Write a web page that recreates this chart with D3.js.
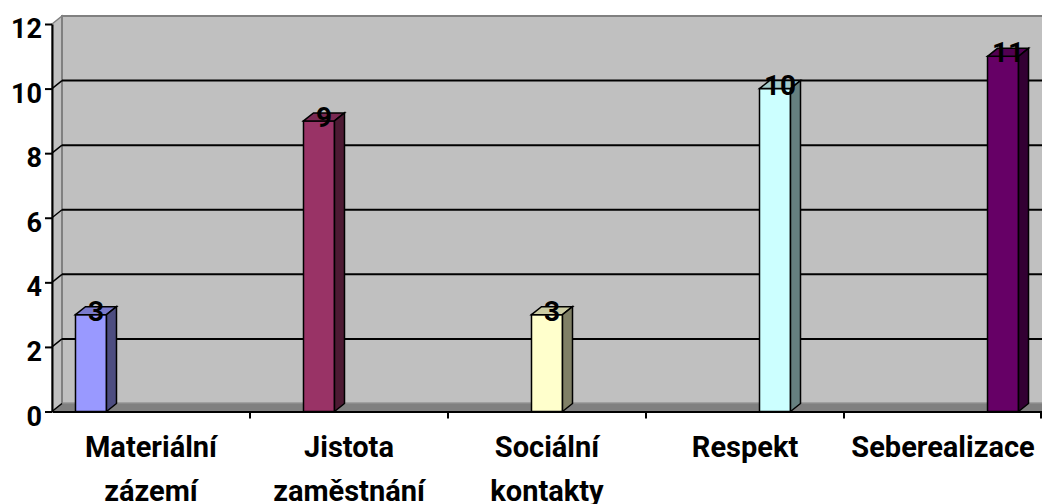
<!DOCTYPE html>
<html>
<head>
<meta charset="utf-8">
<script src="https://cdn.jsdelivr.net/npm/d3@7"></script>
<style>
  html, body { margin: 0; padding: 0; background: #fff; }
  svg { display: block; }
  text { font-family: Roboto, "Open Sans", sans-serif; font-weight: 700; fill: #000; }
</style>
</head>
<body>
<svg id="chart" width="1042" height="504"></svg>
<script>
// Motivation factors and how many respondents chose each
const categories = ["Materiální zázemí", "Jistota zaměstnání", "Sociální kontakty", "Respekt", "Seberealizace"];
const labelLines = [["Materiální", "zázemí"], ["Jistota", "zaměstnání"], ["Sociální", "kontakty"], ["Respekt"], ["Seberealizace"]];
const values = [3, 9, 3, 10, 11];
const colors = ["#9999ff", "#993366", "#ffffcc", "#ccffff", "#660066"];
const yTicks = [0, 2, 4, 6, 8, 10, 12];

const plotL = 52, plotR = 1042, plotT = 24, plotB = 411.5;
const depth = { dx: 10, dy: -8 };   // 3D depth offset of walls and columns
const barW = 31;
const axisFont = 27, catFont = 29, valueFont = 28;

const svg = d3.select("#chart");

const y = d3.scaleLinear().domain([0, 12]).range([plotB, plotT]);
const xCat = d3.scaleBand().domain(categories).range([plotL, plotR]);
// columns are spread evenly across the plot, slightly inset from the walls
const xBar = d3.scalePoint().domain(categories).range([plotL, plotR]).padding(0.171);

const shade = (c, k) => {
  const r = d3.rgb(c);
  return d3.rgb(r.r * k, r.g * k, r.b * k).formatHex();
};

// side wall
svg.append("path")
  .attr("d", `M${plotL},${y(0)} L${plotL + depth.dx},${y(0) + depth.dy} L${plotL + depth.dx},${y(12) + depth.dy} L${plotL},${y(12)} Z`)
  .attr("fill", "#c0c0c0").attr("stroke", "#808080").attr("stroke-width", 1.5);

// back wall
svg.append("rect")
  .attr("x", plotL + depth.dx).attr("y", y(12) + depth.dy)
  .attr("width", plotR + 10 - (plotL + depth.dx)).attr("height", y(0) - y(12))
  .attr("fill", "#c0c0c0").attr("stroke", "#808080").attr("stroke-width", 2);

// floor
svg.append("path")
  .attr("d", `M${plotL},${y(0)} L${plotL + depth.dx},${y(0) + depth.dy} L${plotR + depth.dx},${y(0) + depth.dy} L${plotR},${y(0)} Z`)
  .attr("fill", "#808080").attr("stroke", "#8c8c8c").attr("stroke-width", 1);

// gridlines on back wall and their slants across the side wall
const gridVals = yTicks.filter(v => v > 0 && v < 12);
svg.append("g").selectAll("line").data(gridVals).join("line")
  .attr("x1", plotL + depth.dx).attr("x2", plotR + 10)
  .attr("y1", d => y(d) + depth.dy).attr("y2", d => y(d) + depth.dy)
  .attr("stroke", "#000").attr("stroke-width", 2);
svg.append("g").selectAll("line").data(yTicks.filter(v => v < 12)).join("line")
  .attr("x1", plotL).attr("x2", plotL + depth.dx)
  .attr("y1", d => y(d)).attr("y2", d => y(d) + depth.dy)
  .attr("stroke", "#000").attr("stroke-width", 1.5);

// 3D columns
const bars = svg.append("g").selectAll("g").data(categories).join("g");
bars.each(function (c, i) {
  const g = d3.select(this);
  const x0 = xBar(c) - barW / 2, x1 = xBar(c) + barW / 2;
  const yt = y(values[i]), yb = y(0);
  const col = colors[i];
  g.append("rect").attr("x", x0).attr("y", yt).attr("width", barW).attr("height", yb - yt)
    .attr("fill", col).attr("stroke", "#000").attr("stroke-width", 1.5);
  g.append("path")
    .attr("d", `M${x0},${yt} L${x0 + depth.dx},${yt + depth.dy} L${x1 + depth.dx},${yt + depth.dy} L${x1},${yt} Z`)
    .attr("fill", shade(col, 0.8)).attr("stroke", "#000").attr("stroke-width", 1.5);
  g.append("path")
    .attr("d", `M${x1},${yt} L${x1 + depth.dx},${yt + depth.dy} L${x1 + depth.dx},${yb + depth.dy} L${x1},${yb} Z`)
    .attr("fill", shade(col, 0.5)).attr("stroke", "#000").attr("stroke-width", 1.5);
});

// value labels centred on the column tops
svg.append("g").selectAll("text").data(categories).join("text")
  .attr("x", c => xBar(c) + depth.dx / 2)
  .attr("y", (c, i) => y(values[i]) + depth.dy / 2 + 10)
  .attr("text-anchor", "middle")
  .style("font-size", valueFont + "px")
  .text((c, i) => values[i]);

// value axis
const yAxis = svg.append("g").attr("transform", `translate(${plotL},0)`)
  .call(d3.axisLeft(y).tickValues(yTicks).tickSize(7).tickSizeOuter(0).tickPadding(3));
yAxis.select(".domain").attr("stroke", "#000").attr("stroke-width", 2);
yAxis.selectAll(".tick text").style("font-size", axisFont + "px").attr("dy", "0.5em")
  .style("font-family", "Roboto, sans-serif");
yAxis.selectAll(".tick line").attr("stroke", "#000").attr("stroke-width", 2);

// category axis: line, boundary ticks, two-line labels
const xAxis = svg.append("g").attr("transform", `translate(0,${y(0)})`)
  .call(d3.axisBottom(xCat).tickSize(0).tickSizeOuter(0).tickPadding(0));
xAxis.select(".domain").attr("stroke", "#000").attr("stroke-width", 2);
xAxis.selectAll(".tick text").text(null)
  .attr("y", 0).attr("dy", null)
  .style("font-size", catFont + "px")
  .each(function (c, i) {
    const t = d3.select(this);
    labelLines[i].forEach((ln, k) => {
      t.append("tspan").attr("x", 0).attr("y", 45.5 + k * 44).text(ln);
    });
  });
const bounds = categories.map(c => xCat(c)).concat([plotR - 1]).slice(1);
xAxis.append("g").selectAll("line").data(bounds).join("line")
  .attr("x1", d => d).attr("x2", d => d).attr("y1", 0).attr("y2", 7)
  .attr("stroke", "#000").attr("stroke-width", 2);
</script>
</body>
</html>
